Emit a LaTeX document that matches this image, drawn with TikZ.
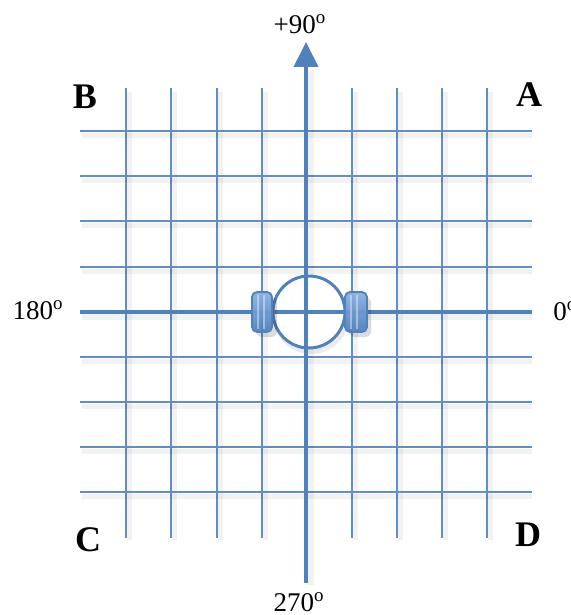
\documentclass[tikz,border=0pt]{standalone}
\usepackage{fontspec}
\setmainfont{Liberation Serif}
\usetikzlibrary{arrows.meta}

\definecolor{axisblue}{RGB}{79,129,189}
\definecolor{lightblue}{RGB}{140,178,226}

\begin{document}
\begin{tikzpicture}[
    x=0.5pt, y=-0.5pt,
    gridline/.style={draw=axisblue!90, line width=0.75pt},
    gridshade/.style={draw=black, opacity=0.05, line width=2.5pt},
    axisline/.style={draw=axisblue, line width=2pt},
    clamp/.style={draw=axisblue, line width=0.9pt, rounded corners=2.5pt, top color=lightblue, bottom color=axisblue, fill opacity=0.95},
    anglelabel/.style={font=\fontsize{13.5}{16}\selectfont, inner sep=0pt},
    quadlabel/.style={font=\fontsize{18}{20}\selectfont\bfseries, inner sep=0pt}
]
\useasboundingbox (0,0) rectangle (570,615);

% grid
\foreach \x in {126,171,217,262,352,397,442,487} {
  \draw[gridshade] (\x+3,92) -- (\x+3,540);
  \draw[gridline] (\x,88) -- (\x,538);
}
\foreach \y in {131,176,221,267,357,402,447,492} {
  \draw[gridshade] (82,\y+4) -- (532,\y+4);
  \draw[gridline] (80,\y) -- (532,\y);
}

% axes
\coordinate (top) at (306,42);
\coordinate (bottom) at (306,583);
\coordinate (left) at (80,312);
\coordinate (right) at (532,312);
\draw[gridshade, line width=4pt] (82,316) -- (532,316);
\draw[gridshade, line width=4pt] (310,70) -- (310,585);

% ring
\draw[draw=black, opacity=0.08, line width=3pt] (311,316) circle (35);
\draw[axisblue, line width=1.5pt, fill=white] (309,312) circle (36);

\draw[axisline] (left) -- (right);
\draw[axisline, -{Triangle[length=12.5pt, width=12pt]}] (bottom) -- (top);

% clamps
\fill[black, opacity=0.14, rounded corners=3pt] (256,297) rectangle (277,337);
\fill[black, opacity=0.14, rounded corners=3pt] (349,297) rectangle (371,337);
\path[clamp] (252,292) rectangle (272,332);
\path[clamp] (345,292) rectangle (367,332);
\draw[white, opacity=0.4, line width=0.6pt] (258,295) -- (258,329);
\draw[white, opacity=0.4, line width=0.6pt] (264,295) -- (264,329);
\draw[white, opacity=0.4, line width=0.6pt] (351,295) -- (351,329);
\draw[white, opacity=0.4, line width=0.6pt] (357,295) -- (357,329);

% labels
\node[anglelabel] (lab90) at (300,24) {+90\textsuperscript{o}};
\node[anglelabel] (lab180) at (38,310) {180\textsuperscript{o}};
\node[anglelabel, anchor=west] (lab0) at (553,311) {0\textsuperscript{o}};
\node[anglelabel] (lab270) at (299,602) {270\textsuperscript{o}};

\node[quadlabel] (qB) at (85,97) {B};
\node[quadlabel] (qA) at (529,95) {A};
\node[quadlabel] (qC) at (88,540) {C};
\node[quadlabel] (qD) at (528,535) {D};
\end{tikzpicture}
\end{document}
